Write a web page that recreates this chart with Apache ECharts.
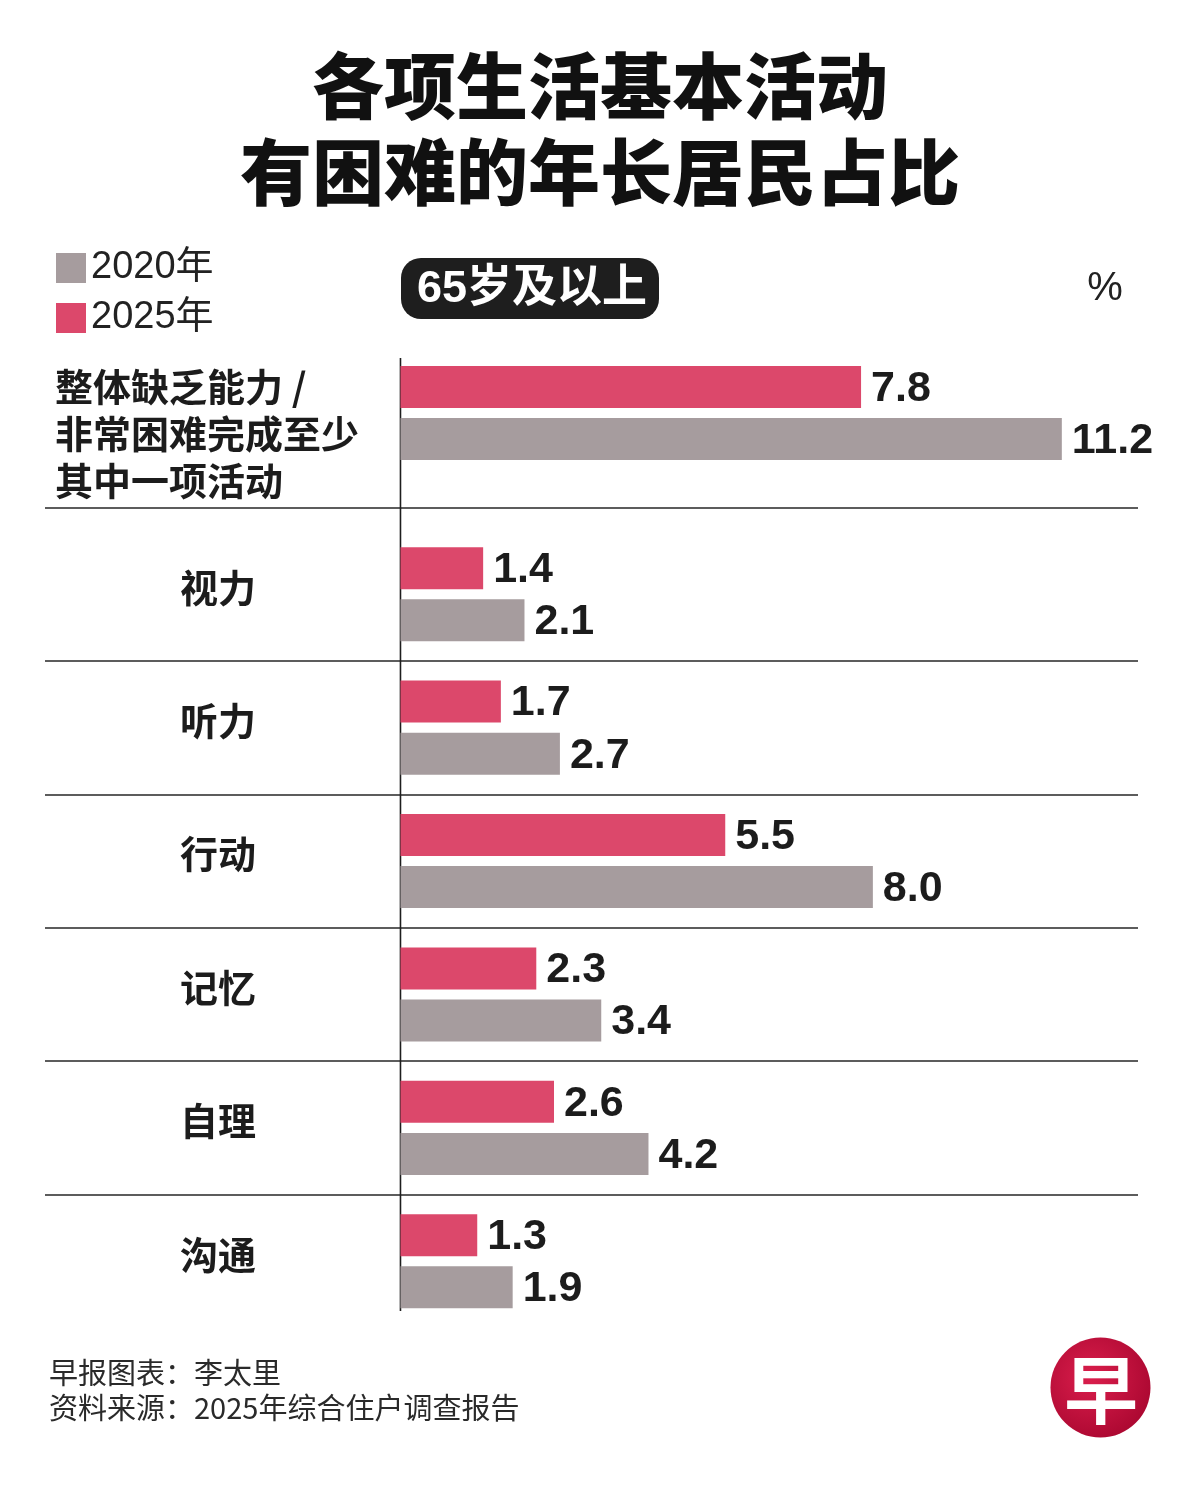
<!DOCTYPE html>
<html>
<head>
<meta charset="utf-8">
<script src="https://cdn.jsdelivr.net/npm/echarts@6/dist/echarts.min.js"></script>
<style>
html,body{margin:0;padding:0;background:#fff;}
#chart{width:1200px;height:1488px;}
</style>
</head>
<body>
<div id="chart"></div>
<script>
// ---- data ----
const categories = ['整体缺乏能力 /\n非常困难完成至少\n其中一项活动', '视力', '听力', '行动', '记忆', '自理', '沟通'];
const values2025 = [7.8, 1.4, 1.7, 5.5, 2.3, 2.6, 1.3];
const values2020 = [11.2, 2.1, 2.7, 8.0, 3.4, 4.2, 1.9];
const seriesNames = ['2020年', '2025年'];
const titleText = '各项生活基本活动\n有困难的年长居民占比';
const badgeText = '65岁及以上';
const unitText = '%';
const notes = ['早报图表：李太里', '资料来源：2025年综合住户调查报告'];

// ---- styles ----
const PINK = '#DC486B';
const GREY = '#A69C9E';
const INK = '#1c1c1c';
const CJK = "'Noto Sans CJK SC', sans-serif";
const LATIN = "'Liberation Sans', Arial, 'Noto Sans CJK SC', sans-serif";

const chart = echarts.init(document.getElementById('chart'), null, {renderer: 'canvas'});

const xAxisBase = {type: 'value', min: -6.02, max: 12.49, show: false};
const ySplit = {lineStyle: {color: '#262626', width: 1.6}};
const catText = {fontSize: 38, fontWeight: 'bold', color: INK, fontFamily: CJK};

function barSeries(name, data, color, idx) {
  return {
    name: name,
    type: 'bar',
    xAxisIndex: idx,
    yAxisIndex: idx,
    data: data,
    barWidth: 42,
    barGap: '24%',
    silent: true,
    itemStyle: {color: color},
    label: {
      show: true,
      position: 'right',
      distance: 10,
      offset: [0, 2],
      formatter: function (p) { return Number(p.value).toFixed(1); },
      fontSize: 43,
      fontWeight: 'bold',
      fontFamily: LATIN,
      color: INK
    }
  };
}

const option = {
  animation: false,
  backgroundColor: '#ffffff',
  title: {
    text: titleText,
    left: 'center',
    top: 43,
    padding: 0,
    textStyle: {fontFamily: CJK, fontSize: 72, fontWeight: 900, lineHeight: 86, color: '#111111'}
  },
  legend: {
    data: seriesNames,
    orient: 'vertical',
    left: 56,
    top: 249,
    padding: 0,
    itemWidth: 30,
    itemHeight: 30,
    itemGap: 12,
    icon: 'rect',
    selectedMode: false,
    textStyle: {fontSize: 38, color: '#222222', fontFamily: LATIN}
  },
  grid: [
    {left: 45, right: 62, top: 318.7, height: 188.6, outerBoundsMode: 'none', containLabel: false},
    {left: 45, right: 62, top: 527.5, height: 800.5, outerBoundsMode: 'none', containLabel: false}
  ],
  xAxis: [
    Object.assign({gridIndex: 0}, xAxisBase),
    Object.assign({gridIndex: 1}, xAxisBase)
  ],
  yAxis: [
    {
      type: 'category', gridIndex: 0, inverse: true,
      data: categories.slice(0, 1),
      axisLine: {show: false, onZero: false},
      axisTick: {show: false},
      splitLine: Object.assign({show: true, showMinLine: false, showMaxLine: true}, ySplit),
      axisLabel: Object.assign({
        align: 'left', margin: -10,
        formatter: function (v) {
          return '{s| }\n' + v.split('\n').map(function (l) { return '{t|' + l + '}'; }).join('\n');
        },
        rich: {
          s: {fontSize: 10, lineHeight: 42},
          t: Object.assign({lineHeight: 47}, catText)
        }
      }, catText)
    },
    {
      type: 'category', gridIndex: 1, inverse: true,
      data: categories.slice(1),
      axisLine: {show: false, onZero: false},
      axisTick: {show: false},
      splitLine: Object.assign({show: true, showMinLine: false, showMaxLine: false}, ySplit),
      axisLabel: Object.assign({
        align: 'center', margin: -173,
        formatter: function (v) { return '{t|' + v + '}\n{s| }'; },
        rich: {
          s: {fontSize: 10, lineHeight: 14},
          t: Object.assign({lineHeight: 40}, catText)
        }
      }, catText)
    }
  ],
  series: [
    barSeries(seriesNames[1], values2025.slice(0, 1), PINK, 0),
    barSeries(seriesNames[0], values2020.slice(0, 1), GREY, 0),
    barSeries(seriesNames[1], values2025.slice(1), PINK, 1),
    barSeries(seriesNames[0], values2020.slice(1), GREY, 1)
  ]
};
chart.setOption(option);

// decorations (axis line, badge, unit, notes, logo)
const zeroX = chart.convertToPixel({xAxisIndex: 0}, 0);
chart.setOption({
  graphic: [
    {type: 'line', silent: true, shape: {x1: zeroX, y1: 358, x2: zeroX, y2: 1311}, style: {stroke: '#1e1e1e', lineWidth: 1.6}},
    {type: 'rect', silent: true, shape: {x: 401, y: 258, width: 258, height: 61, r: 20}, style: {fill: '#1e1e1e'}},
    {type: 'text', silent: true, style: {x: 532, y: 290, text: badgeText, fill: '#ffffff', font: 'bold 45px ' + LATIN, textAlign: 'center', textVerticalAlign: 'middle'}},
    {type: 'text', silent: true, style: {x: 1105, y: 289, text: unitText, fill: '#222222', font: '40px ' + LATIN, textAlign: 'center', textVerticalAlign: 'middle'}},
    {type: 'text', silent: true, style: {x: 49, y: 1373, text: notes[0], fill: '#2a2a2a', font: '29px ' + CJK, textAlign: 'left', textVerticalAlign: 'middle'}},
    {type: 'text', silent: true, style: {x: 49, y: 1408, text: notes[1], fill: '#2a2a2a', font: '29px ' + CJK, textAlign: 'left', textVerticalAlign: 'middle'}},
    {type: 'circle', silent: true, shape: {cx: 1100.5, cy: 1387.5, r: 50},
      style: {fill: new echarts.graphic.RadialGradient(0.4, 0.4, 0.7, [{offset: 0, color: '#DA1E4C'}, {offset: 1, color: '#A8062F'}])}},
    {type: 'text', silent: true, style: {x: 1101, y: 1390, text: '早', fill: '#ffffff', font: 'bold 74px ' + CJK, textAlign: 'center', textVerticalAlign: 'middle'}}
  ]
});
</script>
</body>
</html>
